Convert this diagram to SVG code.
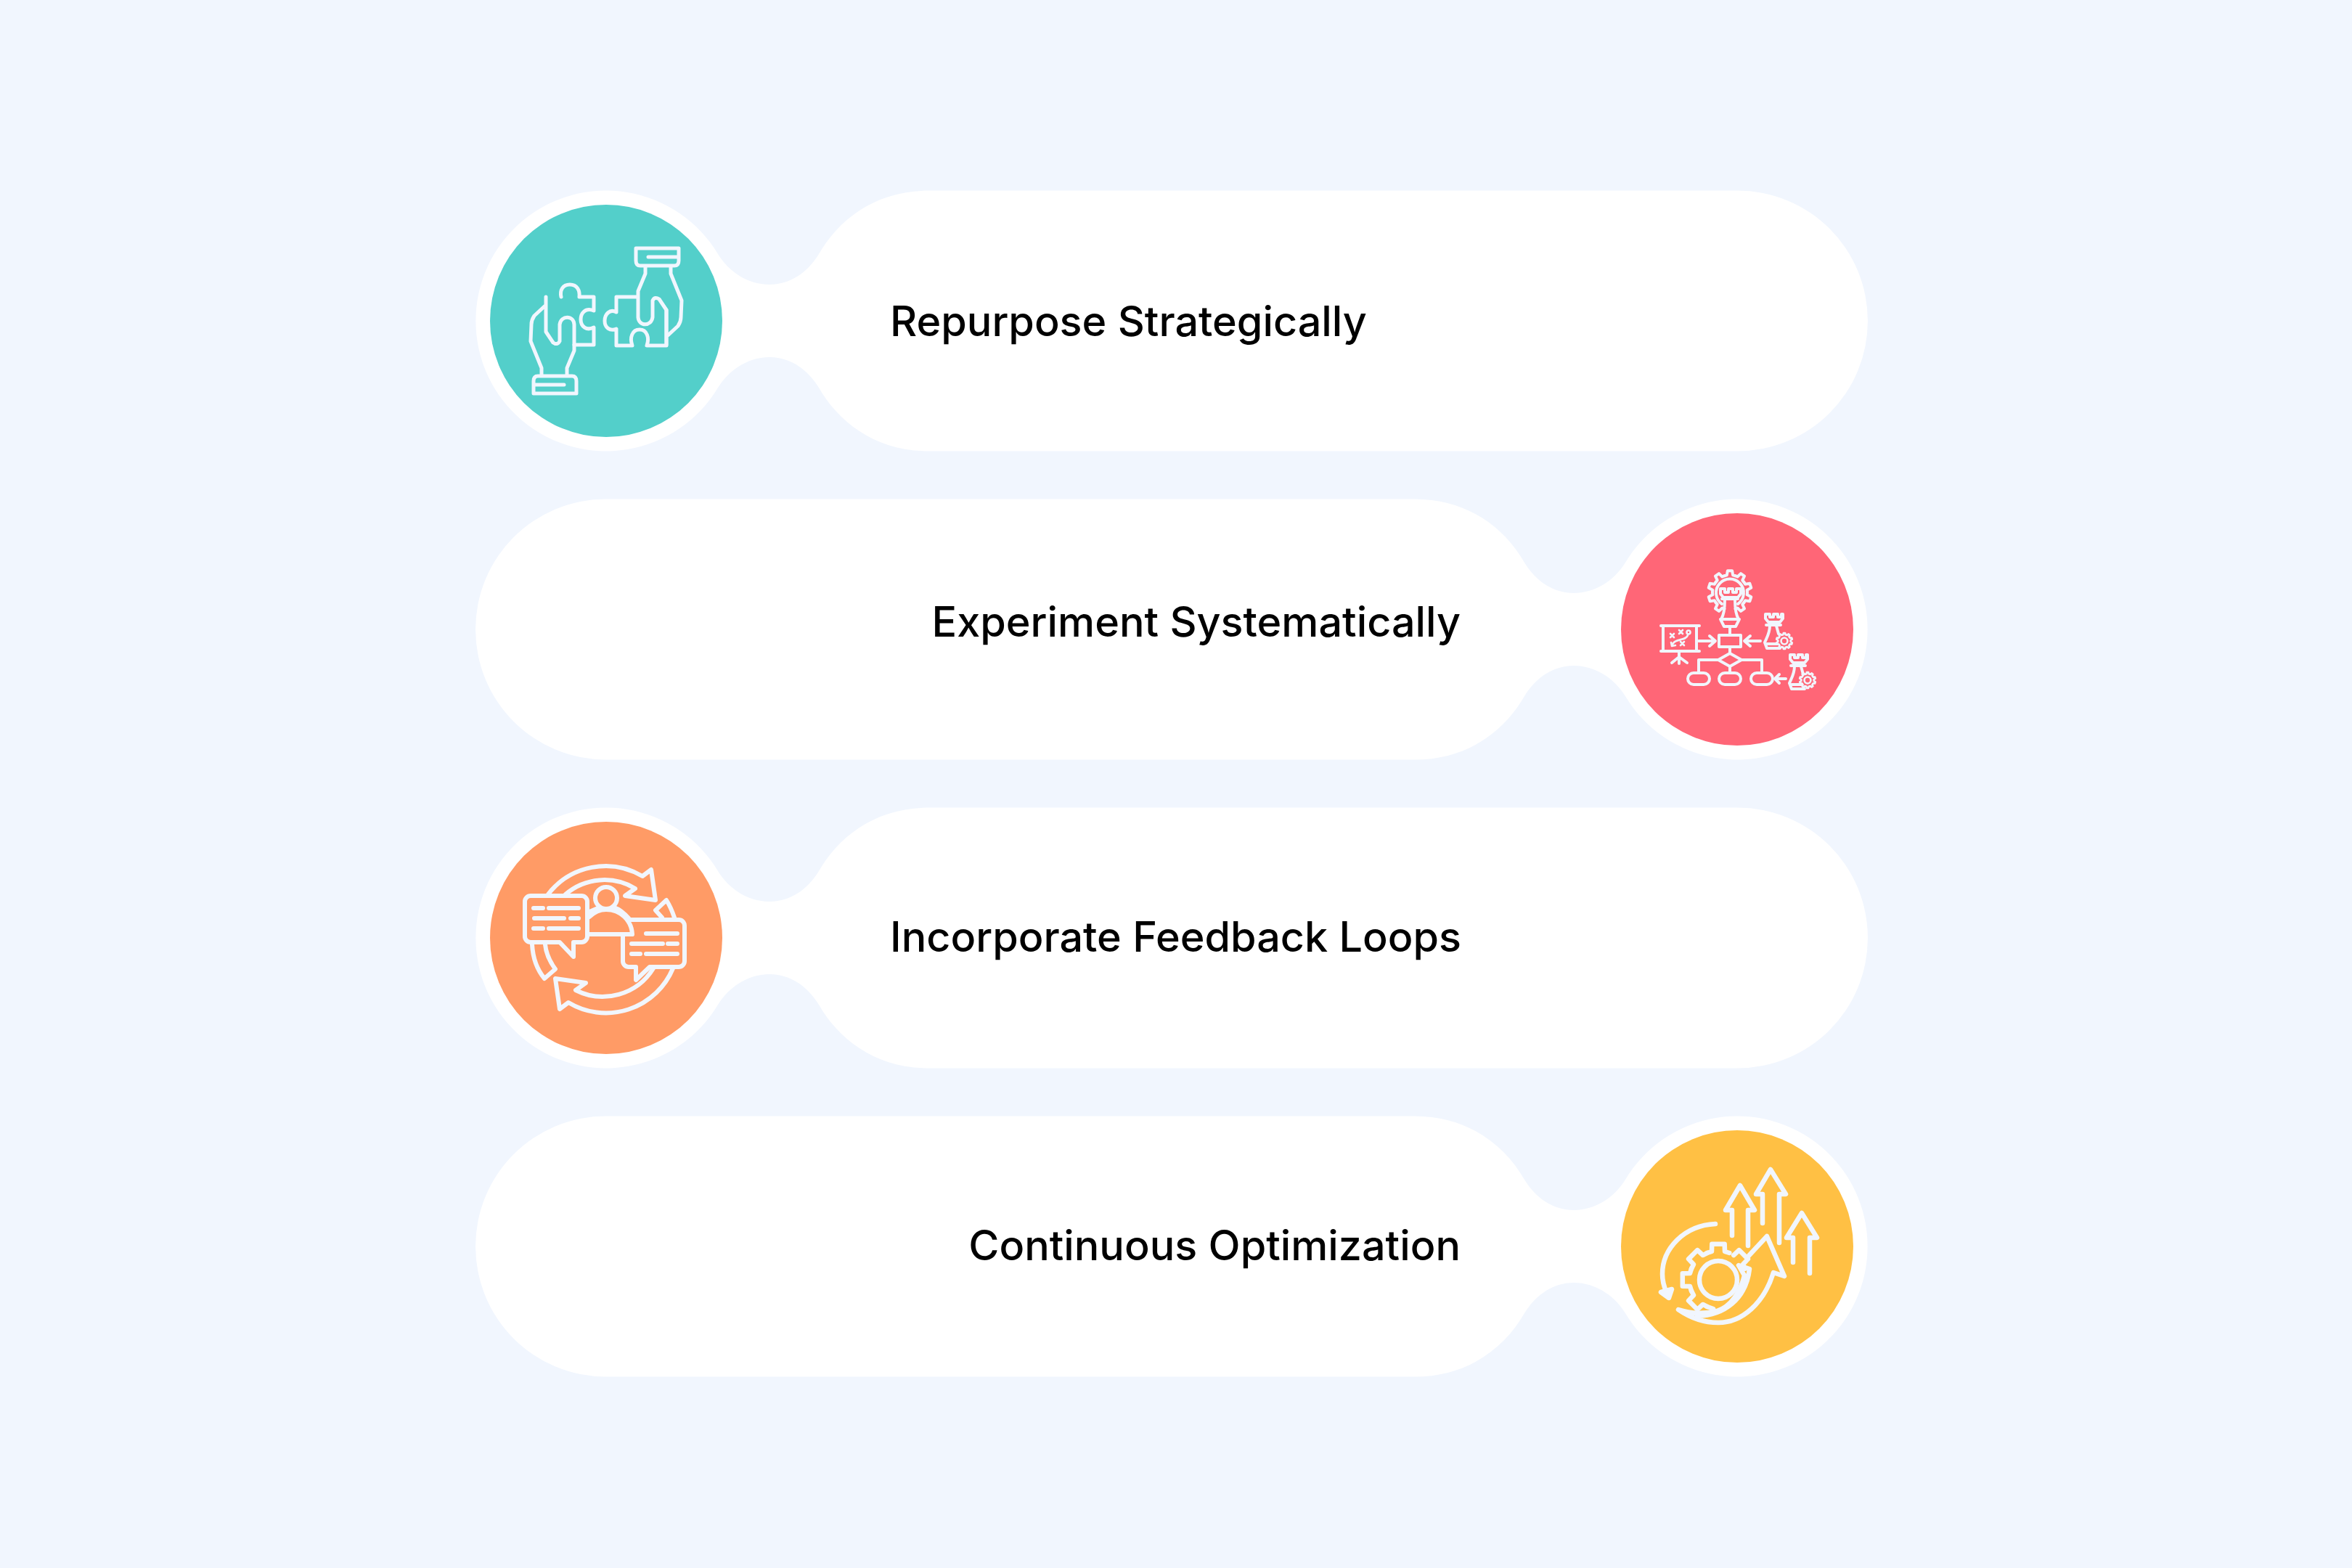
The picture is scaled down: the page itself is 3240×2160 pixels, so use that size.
<svg xmlns="http://www.w3.org/2000/svg" width="3240" height="2160" viewBox="0 0 3240 2160">
<style>
.pill{fill:#fff}
.lbl{font-family:"Inter","Liberation Sans",sans-serif;font-size:57.5px;font-weight:500;fill:#000}
.ic{fill:none;stroke:#f1f6fe;stroke-linecap:round;stroke-linejoin:round}
</style>
<defs>
<path id="pill" d="M1280 262.5H2393.5A179.5 179.5 0 0 1 2393.5 621.5H1280C1205 621.5 1155 581 1128 534C1112 508 1088 492 1060 492C1032 492 1005 508 989 534A179.5 179.5 0 1 1 989 350C1005 376 1032 392 1060 392C1088 392 1112 376 1128 350C1155 303 1205 262.5 1280 262.5Z"/>
<path id="hand" d="M752 409V457L762 472Q768 476 771 470V447C773 434 790 434 791 447V483L781 507V518M750 422L736 435Q732 441 732 447L731 470L746 507V518M741 518H788Q794 518 794 525V542H735V525Q735 518 741 518ZM736 530H777"/>
<path id="t10" d="M-7.4-22.8L-4.2-23.6L-3.1-29.8L3.1-29.8L4.2-23.6L7.4-22.8"/>
<path id="t8" d="M-15.3-37L-9-39L-8.7-49.2L8.7-49.2L9-39L15.3-37"/>
<path id="rook" d="M2432 846h6v4h5v-4h6v4h5v-4h2v6l-4 5h-16l-4-5zM2433 861H2453M2438 862C2438 872 2434 878 2431 885L2434 893H2452M2447 862L2450 873M2434 887H2448"/>
<g id="gs"><circle r="12"/><use href="#t10"/><use href="#t10" transform="rotate(36)"/><use href="#t10" transform="rotate(72)"/><use href="#t10" transform="rotate(108)"/><use href="#t10" transform="rotate(144)"/><use href="#t10" transform="rotate(180)"/><use href="#t10" transform="rotate(216)"/><use href="#t10" transform="rotate(252)"/><use href="#t10" transform="rotate(288)"/><use href="#t10" transform="rotate(324)"/></g>
</defs>
<rect width="3240" height="2160" fill="#f1f6fe"/>
<g id="connectors"></g>

<g id="node-repurpose">
<use href="#pill" class="pill"/>
<circle cx="835" cy="442" r="160" fill="#53cfca"/>
<g class="ic" stroke-width="5">
<use href="#hand"/>
<use href="#hand" transform="rotate(180 835 442)"/>
<path d="M773 409C771 400 775 392 785 392C795 392 799 400 798 409H818V428C806 423 800 432 800 440C800 450 808 456 818 451V475H791"/>
<path d="M877 409H849V430C840 425 833 433 833 442C833 451 840 457 849 453V476H871C867 465 871 454 881 454C891 454 895 465 891 476H918V427"/>
</g>
<text class="lbl" x="1226" y="463">Repurpose Strategically</text>
</g>

<g id="node-experiment">
<use href="#pill" class="pill" transform="translate(3228 425) scale(-1 1)"/>
<circle cx="2393" cy="867" r="160" fill="#ff6677"/>
<g class="ic" stroke-width="4">
<g transform="translate(2383 816)"><use href="#t10"/><use href="#t10" transform="rotate(36)" /><use href="#t10" transform="rotate(-36)"/><use href="#t10" transform="rotate(72)"/><use href="#t10" transform="rotate(-72)"/><use href="#t10" transform="rotate(108)"/><use href="#t10" transform="rotate(-108)"/><use href="#t10" transform="rotate(144)"/><use href="#t10" transform="rotate(-144)"/></g>
<path d="M2372 832A19 19 0 1 1 2394 832"/>
<path d="M2370 811h6v5h5v-5h6v5h5v-5h6v7l-4 5h-20l-4-5z"/>
<path d="M2372 825H2394M2376 826C2376 838 2374 848 2371 853H2395C2392 848 2390 838 2390 826M2370 853L2375 863H2391L2396 853"/>
<path d="M2383 863V875M2383 891V900"/>
<rect x="2368" y="875" width="30" height="16"/>
<path d="M2383 900L2399 909L2383 918L2367 909Z"/>
<path d="M2367 909H2340V927M2399 909H2427V927M2383 918V927"/>
<rect x="2325" y="927" width="30" height="16" rx="8"/>
<rect x="2368" y="927" width="30" height="16" rx="8"/>
<rect x="2412" y="927" width="30" height="16" rx="8"/>
<path d="M2340 883H2362M2355 876L2363 883L2355 890M2425 883H2404M2411 876L2403 883L2411 890M2460 935H2446M2451 929L2445 935L2451 941"/>
<path d="M2288 862H2341M2288 897H2341M2291 862V897M2337 862V897M2313 897V914M2303 913L2313 905L2324 913"/>
<path stroke-width="2.6" d="M2301 873L2306 878M2306 873L2301 878M2313 868L2318 873M2318 868L2313 873M2315 884L2320 889M2320 884L2315 889M2303 890C2306 878 2322 884 2325 875M2302 885L2303 890L2308 889"/>
<circle cx="2326" cy="871" r="2.5" stroke-width="2.6"/>
<use href="#rook"/>
<use href="#rook" transform="translate(34 56)"/>
<g transform="translate(2458 883) scale(.37)" stroke-width="7"><use href="#gs"/></g>
<g transform="translate(2490 937) scale(.37)" stroke-width="7"><use href="#gs"/></g>
</g>
<text class="lbl" x="2012" y="877" text-anchor="end">Experiment Systematically</text>
</g>

<g id="node-feedback">
<use href="#pill" class="pill" transform="translate(0 850)"/>
<circle cx="835" cy="1292" r="160" fill="#ff9b66"/>
<g class="ic" stroke-width="6">
<path d="M755 1232A100 100 0 0 1 885 1207L897 1198L903 1240L861 1234L875 1224A82 82 0 0 0 779 1232"/>
<path d="M927 1334A100 100 0 0 1 783 1381L771 1390L765 1348L807 1354L793 1364A82 82 0 0 0 900 1334"/>
<path d="M733 1301C734 1320 741 1337 750 1348L765 1335C757 1324 752 1313 751 1301"/>
<path d="M929 1264C926 1255 923 1248 918 1240L903 1254L912 1264"/>
<path d="M731 1234H801a8 8 0 0 1 8 8V1290a8 8 0 0 1-8 8H790V1318L771 1298H731a8 8 0 0 1-8-8V1242a8 8 0 0 1 8-8Z"/>
<path d="M735 1251H748M756 1251H797M736 1265H777M786 1265H797M735 1279H748M756 1279H797"/>
<circle cx="835" cy="1237" r="15"/>
<path d="M812 1263C820 1255 828 1253 835 1253C855 1253 870 1268 871 1287H809M826 1250L812 1256M846 1250C852 1252 860 1258 866 1265"/>
<path d="M867 1267H935a8 8 0 0 1 8 8V1324a8 8 0 0 1-8 8H895L876 1350V1332H866a8 8 0 0 1-8-8V1288"/>
<path d="M890 1286H933M870 1300H913M920 1300H933M870 1314H882M890 1314H933"/>
</g>
<text class="lbl" x="1226" y="1311">Incorporate Feedback Loops</text>
</g>

<g id="node-optimization">
<use href="#pill" class="pill" transform="translate(3228 1275) scale(-1 1)"/>
<circle cx="2393" cy="1717" r="160" fill="#ffc044"/>
<g class="ic" stroke-width="6.5">
<path d="M2386 1702V1667H2377L2397 1633L2417 1667H2408V1716"/>
<path d="M2428 1685V1645H2419L2439 1611L2460 1645H2451V1712"/>
<path d="M2470 1739V1705H2461L2482 1671L2503 1705H2493V1754"/>
<path d="M2407 1732L2434 1703L2458 1758L2443 1753C2430 1795 2400 1822 2367 1822C2345 1822 2328 1815 2312 1804C2330 1810 2350 1810 2365 1806C2385 1800 2398 1778 2403 1757L2395 1743L2410 1748C2405 1790 2375 1812 2338 1813"/>
<g transform="translate(2367 1763)">
<use href="#t8"/>
<use href="#t8" transform="rotate(-45)"/>
<use href="#t8" transform="rotate(-90)"/>
<use href="#t8" transform="rotate(-135)"/>
<path d="M-9-39L-8.7-49.2L8.7-49.2L9-39L15.3-37" transform="rotate(45)"/>
<path d="M-15.3 37L-7 40"/>
<circle r="26"/>
</g>
<path d="M2363 1686C2320 1688 2290 1720 2290 1755C2290 1765 2293 1775 2297 1783"/>
<path fill="#f1f6fe" d="M2288 1780L2303 1776L2299 1788Z"/>
</g>
<text class="lbl" x="2012" y="1736" text-anchor="end">Continuous Optimization</text>
</g>
</svg>
